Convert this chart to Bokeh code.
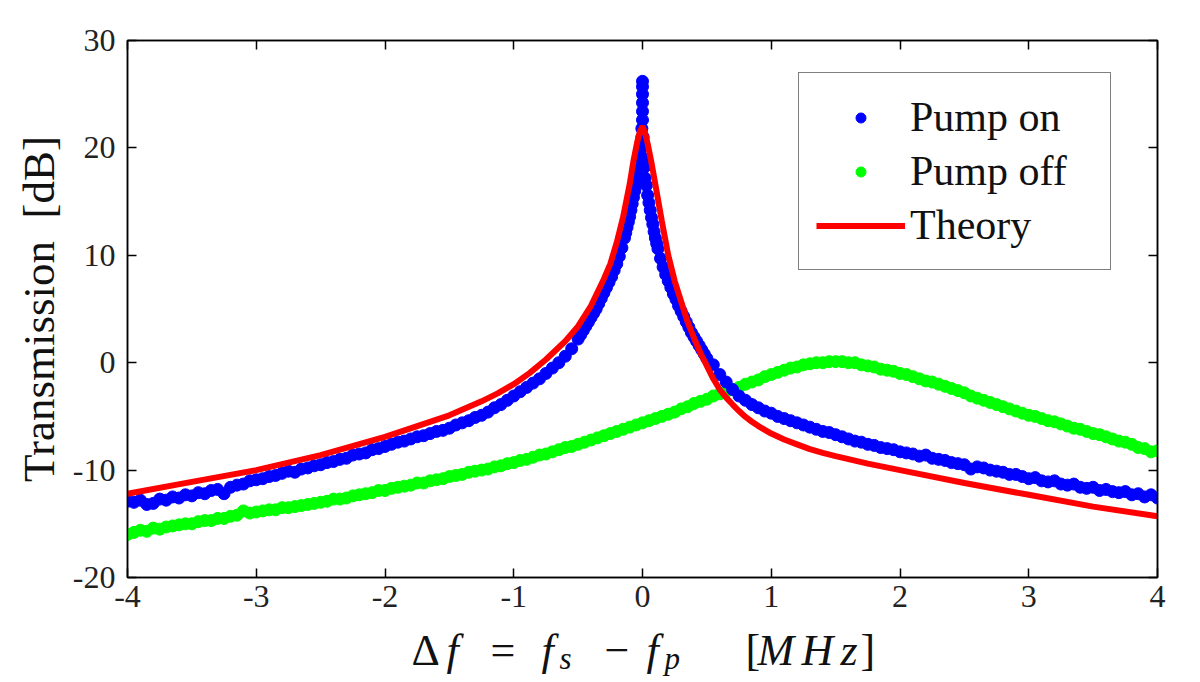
from bokeh.plotting import figure
from bokeh.layouts import column
from bokeh.models import (LinearAxis, FixedTicker, Legend, LegendItem, Label,
                          ColumnDataSource, Range1d, CustomJSTickFormatter)
from bokeh.embed import file_html
from bokeh.resources import INLINE

# ---------------- data ----------------
x_ticks = [-4, -3, -2, -1, 0, 1, 2, 3, 4]
x_tick_labels = ["-4", "-3", "-2", "-1", "0", "1", "2", "3", "4"]
y_ticks = [-20, -10, 0, 10, 20, 30]
y_tick_labels = ["-20", "-10", "0", "10", "20", "30"]

pump_on_x = [
    -4.00, -3.95, -3.90, -3.85, -3.80, -3.75, -3.70, -3.65, -3.60, -3.55,
    -3.50, -3.45, -3.40, -3.35, -3.30, -3.25, -3.20, -3.15, -3.10, -3.05,
    -3.00, -2.95, -2.90, -2.85, -2.80, -2.75, -2.70, -2.65, -2.60, -2.55,
    -2.50, -2.45, -2.40, -2.35, -2.30, -2.25, -2.20, -2.15, -2.10, -2.05,
    -2.00, -1.95, -1.90, -1.85, -1.80, -1.75, -1.70, -1.65, -1.60, -1.55,
    -1.50, -1.45, -1.40, -1.35, -1.30, -1.25, -1.20, -1.15, -1.10, -1.05,
    -1.00, -0.95, -0.90, -0.85, -0.80, -0.75, -0.70, -0.65, -0.60, -0.55,
    -0.50,
    -0.48, -0.46, -0.44, -0.42, -0.40, -0.38, -0.36, -0.34, -0.32, -0.30,
    -0.28, -0.26, -0.24, -0.22, -0.20, -0.18, -0.16, -0.14,
    -0.13, -0.12, -0.11, -0.10, -0.09, -0.08, -0.07, -0.06, -0.05, -0.04,
    -0.03, -0.02,
    -0.015, -0.01, -0.005, -0.005, 0.0, 0.0, 0.0, 0.0, 0.0, 0.0,
    0.005, 0.005, 0.01, 0.015,
    0.02, 0.03, 0.04, 0.05, 0.06, 0.07, 0.08, 0.09, 0.10, 0.11, 0.12,
    0.14, 0.16, 0.18, 0.20, 0.22, 0.24, 0.26, 0.28, 0.30, 0.32,
    0.34, 0.36, 0.38, 0.40, 0.42, 0.44, 0.46, 0.48, 0.50,
    0.55, 0.60, 0.65, 0.70, 0.75, 0.80, 0.85, 0.90, 0.95, 1.00,
    1.05, 1.10, 1.15, 1.20, 1.25, 1.30, 1.35, 1.40, 1.45, 1.50,
    1.55, 1.60, 1.65, 1.70, 1.75, 1.80, 1.85, 1.90, 1.95, 2.00,
    2.05, 2.10, 2.15, 2.20, 2.25, 2.30, 2.35, 2.40, 2.45, 2.50,
    2.55, 2.60, 2.65, 2.70, 2.75, 2.80, 2.85, 2.90, 2.95, 3.00,
    3.05, 3.10, 3.15, 3.20, 3.25, 3.30, 3.35, 3.40, 3.45, 3.50,
    3.55, 3.60, 3.65, 3.70, 3.75, 3.80, 3.85, 3.90, 3.95, 4.00,
]
pump_on_y = [
    -12.9, -13.0, -12.8, -13.2, -13.1, -12.7, -12.8, -12.5, -12.6, -12.3,
    -12.4, -12.1, -12.2, -11.9, -11.8, -12.2, -11.6, -11.4, -11.3, -11.0,
    -10.9, -10.8, -10.6, -10.5, -10.3, -10.1, -10.2, -9.9, -9.8, -9.6,
    -9.5, -9.3, -9.2, -9.0, -8.9, -8.6, -8.5, -8.4, -8.1, -8.0,
    -7.8, -7.6, -7.4, -7.3, -7.1, -6.9, -6.8, -6.6, -6.4, -6.3,
    -6.1, -5.8, -5.6, -5.4, -5.1, -4.9, -4.6, -4.2, -3.9, -3.5,
    -3.1, -2.7, -2.3, -1.9, -1.5, -1.0, -0.5, 0.0, 0.6, 1.3,
    2.2,
    2.6, 3.0, 3.4, 3.8, 4.2, 4.6, 5.0, 5.5, 6.0, 6.5,
    7.0, 7.5, 8.0, 8.6, 9.2, 9.9, 10.7, 11.6,
    12.1, 12.6, 13.1, 13.6, 14.2, 14.8, 15.4, 16.0, 16.6, 17.2,
    17.9, 18.6,
    19.3, 20.0, 21.0, 21.8, 22.6, 23.4, 24.2, 25.0, 25.7, 26.2,
    21.0, 20.2, 19.0, 18.2,
    17.2, 16.5, 15.6, 14.9, 14.2, 13.5, 12.9, 12.2, 11.6, 11.1, 10.6,
    9.7, 8.9, 8.2, 7.6, 7.0, 6.4, 5.9, 5.3, 4.8, 4.3,
    3.8, 3.3, 2.8, 2.4, 2.0, 1.6, 1.2, 0.8, 0.4,
    -0.2, -1.1, -1.8, -2.5, -3.1, -3.5, -3.9, -4.2, -4.5, -4.7,
    -5.0, -5.2, -5.4, -5.6, -5.8, -6.0, -6.2, -6.4, -6.5, -6.7,
    -6.9, -7.1, -7.3, -7.4, -7.6, -7.7, -7.9, -8.0, -8.1, -8.3,
    -8.4, -8.5, -8.7, -8.6, -8.9, -9.0, -9.1, -9.3, -9.4, -9.5,
    -9.9, -9.7, -9.8, -10.0, -10.1, -10.2, -10.4, -10.4, -10.6, -10.8,
    -10.7, -11.0, -11.1, -11.0, -11.3, -11.4, -11.3, -11.6, -11.7, -11.6,
    -11.9, -11.8, -12.0, -12.1, -12.0, -12.3, -12.2, -12.5, -12.3, -12.6,
]

pump_off_x = [
    -4.00, -3.95, -3.90, -3.85, -3.80, -3.75, -3.70, -3.65, -3.60, -3.55,
    -3.50, -3.45, -3.40, -3.35, -3.30, -3.25, -3.20, -3.15, -3.10, -3.05,
    -3.00, -2.95, -2.90, -2.85, -2.80, -2.75, -2.70, -2.65, -2.60, -2.55,
    -2.50, -2.45, -2.40, -2.35, -2.30, -2.25, -2.20, -2.15, -2.10, -2.05,
    -2.00, -1.95, -1.90, -1.85, -1.80, -1.75, -1.70, -1.65, -1.60, -1.55,
    -1.50, -1.45, -1.40, -1.35, -1.30, -1.25, -1.20, -1.15, -1.10, -1.05,
    -1.00, -0.95, -0.90, -0.85, -0.80, -0.75, -0.70, -0.65, -0.60, -0.55,
    -0.50, -0.45, -0.40, -0.35, -0.30, -0.25, -0.20, -0.15, -0.10, -0.05,
    0.00, 0.05, 0.10, 0.15, 0.20, 0.25, 0.30, 0.35, 0.40, 0.45,
    0.50, 0.55, 0.60, 0.65, 0.70, 0.75, 0.80, 0.85, 0.90, 0.95,
    1.00, 1.05, 1.10, 1.15, 1.20, 1.25, 1.30, 1.35, 1.40, 1.45,
    1.50, 1.55, 1.60, 1.65, 1.70, 1.75, 1.80, 1.85, 1.90, 1.95,
    2.00, 2.05, 2.10, 2.15, 2.20, 2.25, 2.30, 2.35, 2.40, 2.45,
    2.50, 2.55, 2.60, 2.65, 2.70, 2.75, 2.80, 2.85, 2.90, 2.95,
    3.00, 3.05, 3.10, 3.15, 3.20, 3.25, 3.30, 3.35, 3.40, 3.45,
    3.50, 3.55, 3.60, 3.65, 3.70, 3.75, 3.80, 3.85, 3.90, 3.95,
    4.00,
]
pump_off_y = [
    -16.0, -15.8, -15.6, -15.7, -15.4, -15.5, -15.3, -15.2, -15.1, -15.0,
    -15.0, -14.8, -14.7, -14.7, -14.5, -14.5, -14.3, -14.2, -13.8, -14.0,
    -13.9, -13.8, -13.7, -13.7, -13.5, -13.5, -13.4, -13.3, -13.2, -13.1,
    -13.0, -12.9, -12.7, -12.7, -12.6, -12.4, -12.3, -12.2, -12.1, -11.9,
    -11.9, -11.7, -11.6, -11.5, -11.4, -11.2, -11.2, -11.0, -10.9, -10.8,
    -10.6, -10.5, -10.4, -10.2, -10.1, -10.0, -9.9, -9.7, -9.6, -9.4,
    -9.3, -9.1, -9.0, -8.8, -8.6, -8.5, -8.3, -8.1, -7.9, -7.8,
    -7.6, -7.4, -7.2, -7.0, -6.8, -6.6, -6.4, -6.2, -6.0, -5.8,
    -5.6, -5.4, -5.2, -5.0, -4.8, -4.6, -4.3, -4.1, -3.8, -3.6,
    -3.4, -3.1, -2.9, -2.7, -2.5, -2.3, -2.0, -1.8, -1.6, -1.3,
    -1.1, -0.9, -0.7, -0.5, -0.4, -0.2, -0.1, 0.0, 0.0, 0.1,
    0.1, 0.1, 0.0, 0.0, -0.2, -0.3, -0.4, -0.6, -0.7, -0.8,
    -1.0, -1.1, -1.3, -1.5, -1.7, -1.8, -2.0, -2.2, -2.4, -2.6,
    -2.8, -3.1, -3.3, -3.5, -3.7, -3.9, -4.1, -4.3, -4.5, -4.7,
    -4.9, -5.0, -5.2, -5.4, -5.5, -5.7, -5.9, -6.1, -6.2, -6.4,
    -6.6, -6.7, -6.9, -7.1, -7.3, -7.4, -7.6, -7.9, -8.0, -8.3,
    -8.2,
]

theory_x = [-4.0, -3.5, -3.0, -2.5, -2.0, -1.75, -1.5, -1.25, -1.125, -1.0,
            -0.875, -0.75, -0.6, -0.5, -0.4, -0.3, -0.25, -0.2, -0.15, -0.1,
            -0.07, -0.04, -0.02, 0.0, 0.02, 0.04, 0.07, 0.1, 0.15, 0.2,
            0.25, 0.3, 0.35, 0.4, 0.45, 0.5, 0.55, 0.6, 0.65, 0.7,
            0.75, 0.8, 0.85, 0.9, 0.95, 1.0, 1.1, 1.2, 1.3, 1.4,
            1.5, 1.75, 2.0, 2.5, 3.0, 3.5, 4.0]
theory_y = [-12.2, -11.1, -10.0, -8.6, -6.9, -5.9, -4.9, -3.6, -2.85, -2.0,
            -0.95, 0.3, 2.0, 3.4, 5.3, 7.8, 9.2, 11.2, 13.6, 16.6,
            18.8, 20.6, 21.5, 22.0, 21.4, 20.4, 18.6, 16.6, 13.2, 10.0,
            7.6, 5.7, 3.8, 2.3, 0.9, -0.3, -1.5, -2.5, -3.25, -3.9,
            -4.5, -5.05, -5.5, -5.9, -6.25, -6.6, -7.15, -7.6, -8.05, -8.4,
            -8.7, -9.4, -10.0, -11.2, -12.3, -13.4, -14.3]

series_names = ["Pump on", "Pump off", "Theory"]
y_title = "Transmission\u00a0\u00a0[dB]"

# ---------------- figure ----------------
FONT = "Liberation Serif"
LEFT, RIGHT = 127, 43
MAIN_H = 620

p = figure(width=1200, height=MAIN_H, x_range=Range1d(-4, 4), y_range=Range1d(-20, 30),
           output_backend="svg", toolbar_location=None,
           min_border_left=LEFT, min_border_right=RIGHT, min_border_top=40, min_border_bottom=43)
p.xgrid.visible = False
p.ygrid.visible = False
p.outline_line_color = "black"
p.outline_line_width = 1.5
p.background_fill_color = "white"
p.border_fill_color = "white"

on_src = ColumnDataSource(dict(x=pump_on_x, y=pump_on_y))
off_src = ColumnDataSource(dict(x=pump_off_x, y=pump_off_y))
th_src = ColumnDataSource(dict(x=theory_x, y=theory_y))

r_off = p.scatter("x", "y", source=off_src, size=12, color="#00ff00", line_color="#00ff00")
r_on = p.scatter("x", "y", source=on_src, size=12, color="#0000ff", line_color="#0000ff")
r_th = p.line("x", "y", source=th_src, line_color="#ff0000", line_width=6)


def style_axis(ax, ticks, labels, show_labels=True, standoff=12):
    ax.ticker = FixedTicker(ticks=ticks)
    ax.minor_tick_line_color = None
    ax.major_tick_in = 9
    ax.major_tick_out = 0
    ax.major_tick_line_width = 1.5
    ax.major_tick_line_color = "black"
    ax.axis_line_color = "black"
    ax.axis_line_width = 1.5
    if show_labels:
        ax.major_label_overrides = {t: l for t, l in zip(ticks, labels)}
        ax.major_label_text_font = FONT
        ax.major_label_text_font_size = "32px"
        ax.major_label_text_color = "#222222"
        ax.major_label_standoff = standoff
    else:
        ax.formatter = CustomJSTickFormatter(code="return ''")
        ax.major_label_standoff = 0
        ax.major_label_text_font_size = "1px"


style_axis(p.xaxis[0], x_ticks, x_tick_labels, standoff=8)
style_axis(p.yaxis[0], y_ticks, y_tick_labels, standoff=12)
p.yaxis[0].axis_label = y_title
p.yaxis[0].axis_label_text_font = FONT
p.yaxis[0].axis_label_text_font_size = "45px"
p.yaxis[0].axis_label_text_font_style = "normal"
p.yaxis[0].axis_label_text_color = "#111111"
p.yaxis[0].axis_label_standoff = 6

top_ax = LinearAxis()
right_ax = LinearAxis()
style_axis(top_ax, x_ticks, x_tick_labels, show_labels=False)
style_axis(right_ax, y_ticks, y_tick_labels, show_labels=False)
p.add_layout(top_ax, "above")
p.add_layout(right_ax, "right")

legend = Legend(items=[LegendItem(label=series_names[0], renderers=[r_on]),
                       LegendItem(label=series_names[1], renderers=[r_off]),
                       LegendItem(label=series_names[2], renderers=[r_th])],
                location=(671, 307))
legend.label_text_font = FONT
legend.label_text_font_size = "42px"
legend.label_text_color = "#111111"
legend.glyph_width = 89
legend.glyph_height = 25
legend.label_height = 54
legend.label_width = 183
legend.label_standoff = 5
legend.spacing = 0
legend.padding = 17
legend.margin = 0
legend.border_line_color = "black"
legend.border_line_width = 1.5
legend.background_fill_color = "white"
legend.background_fill_alpha = 1.0
p.add_layout(legend, "center")

# ---------------- x-axis title strip: "Δf = f_s − f_p   [MHz]" ----------------
STRIP_H = 682 - MAIN_H
p2 = figure(width=1200, height=STRIP_H, x_range=Range1d(0, 1030), y_range=Range1d(0, STRIP_H),
            output_backend="svg", toolbar_location=None,
            min_border_left=LEFT, min_border_right=RIGHT, min_border_top=0, min_border_bottom=0,
            x_axis_type=None, y_axis_type=None)
p2.outline_line_color = None
p2.background_fill_color = "white"
p2.border_fill_color = "white"

# (text, style, font px, page x of left edge, height above strip bottom)
xlabel_pieces = [
    ("Δ", "normal", 44, 411, 32),
    ("f", "italic", 44, 446, 32),
    ("=", "normal", 44, 490, 32),
    ("f", "italic", 44, 541, 32),
    ("s", "italic", 31, 559, 24),
    ("−", "normal", 44, 604, 32),
    ("f", "italic", 44, 646, 32),
    ("p", "italic", 31, 664, 24),
    ("[", "normal", 44, 745, 32),
    ("M", "italic", 44, 757, 32),
    ("H", "italic", 44, 801, 32),
    ("z", "italic", 44, 840, 32),
    ("]", "normal", 44, 860, 32),
]
for txt, style, size, px, sy in xlabel_pieces:
    p2.add_layout(Label(x=px - LEFT, y=sy, x_units="screen", y_units="screen", text=txt,
                        text_font=FONT, text_font_style=style, text_font_size=f"{size}px",
                        text_color="#111111", text_baseline="alphabetic", text_align="left"))

layout = column(p, p2, spacing=0)
open("out.html", "w").write(file_html(layout, INLINE))
